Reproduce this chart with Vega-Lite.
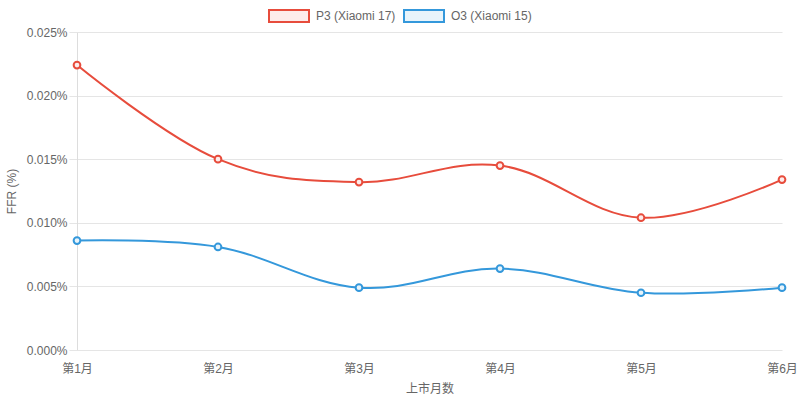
{
  "$schema": "https://vega.github.io/schema/vega-lite/v6.json",
  "width": 705,
  "height": 318,
  "autosize": "none",
  "padding": {"left": 77, "top": 32, "right": 18, "bottom": 51},
  "background": "white",
  "data": {
    "values": [
      {"month": "第1月", "series": "P3 (Xiaomi 17)", "ffr": 0.0224},
      {"month": "第2月", "series": "P3 (Xiaomi 17)", "ffr": 0.0150},
      {"month": "第3月", "series": "P3 (Xiaomi 17)", "ffr": 0.0132},
      {"month": "第4月", "series": "P3 (Xiaomi 17)", "ffr": 0.0145},
      {"month": "第5月", "series": "P3 (Xiaomi 17)", "ffr": 0.0104},
      {"month": "第6月", "series": "P3 (Xiaomi 17)", "ffr": 0.0134},
      {"month": "第1月", "series": "O3 (Xiaomi 15)", "ffr": 0.0086},
      {"month": "第2月", "series": "O3 (Xiaomi 15)", "ffr": 0.0081},
      {"month": "第3月", "series": "O3 (Xiaomi 15)", "ffr": 0.0049},
      {"month": "第4月", "series": "O3 (Xiaomi 15)", "ffr": 0.0064},
      {"month": "第5月", "series": "O3 (Xiaomi 15)", "ffr": 0.0045},
      {"month": "第6月", "series": "O3 (Xiaomi 15)", "ffr": 0.0049}
    ]
  },
  "encoding": {
    "x": {
      "field": "month",
      "type": "ordinal",
      "sort": null,
      "scale": {"type": "point", "padding": 0},
      "axis": {
        "title": "上市月数",
        "labelAngle": 0,
        "ticks": false,
        "grid": false,
        "domain": false,
        "labelPadding": 13,
        "titlePadding": 9
      }
    },
    "y": {
      "field": "ffr",
      "type": "quantitative",
      "scale": {"domain": [0, 0.025], "nice": false},
      "axis": {
        "title": "FFR (%)",
        "values": [0, 0.005, 0.01, 0.015, 0.02, 0.025],
        "labelExpr": "format(datum.value, '.3f') + '%'",
        "tickSize": 8,
        "labelPadding": 2,
        "titlePadding": 8,
        "domain": true
      }
    }
  },
  "layer": [
    {
      "mark": {"type": "line", "interpolate": "cardinal", "tension": -0.1, "strokeWidth": 2},
      "encoding": {
        "stroke": {
          "field": "series",
          "type": "nominal",
          "scale": {"domain": ["P3 (Xiaomi 17)", "O3 (Xiaomi 15)"], "range": ["#e74c3c", "#3498db"]},
          "legend": {
            "title": null,
            "orient": "none",
            "legendX": 191,
            "legendY": -37,
            "direction": "horizontal",
            "symbolType": "M-1,-0.3L1,-0.3L1,0.3L-1,0.3Z",
            "symbolSize": 1600,
            "symbolStrokeWidth": 2,
            "columnPadding": 4,
            "labelOffset": 6
          }
        }
      }
    },
    {
      "mark": {"type": "point", "filled": true, "size": 45, "strokeWidth": 2, "opacity": 1},
      "encoding": {
        "stroke": {"field": "series", "type": "nominal"},
        "fill": {
          "field": "series",
          "type": "nominal",
          "scale": {"domain": ["P3 (Xiaomi 17)", "O3 (Xiaomi 15)"], "range": ["#fdeceb", "#e8f4fb"]},
          "legend": {
            "title": null,
            "orient": "none",
            "legendX": 191,
            "legendY": -37,
            "direction": "horizontal",
            "symbolType": "M-1,-0.3L1,-0.3L1,0.3L-1,0.3Z",
            "symbolSize": 1600,
            "symbolStrokeWidth": 2,
            "columnPadding": 4,
            "labelOffset": 6
          }
        }
      }
    }
  ],
  "config": {
    "font": "Liberation Sans, Noto Sans CJK SC",
    "view": {"stroke": null},
    "axis": {
      "labelFont": "Liberation Sans, Noto Sans CJK SC",
      "titleFont": "Liberation Sans, Noto Sans CJK SC",
      "labelFontSize": 12,
      "titleFontSize": 12,
      "titleFontWeight": "normal",
      "labelColor": "#666666",
      "titleColor": "#666666",
      "gridColor": "#e5e5e5",
      "tickColor": "#e5e5e5",
      "domainColor": "#dddddd"
    },
    "legend": {
      "labelFont": "Liberation Sans, Noto Sans CJK SC",
      "labelFontSize": 12,
      "labelColor": "#666666"
    }
  }
}
